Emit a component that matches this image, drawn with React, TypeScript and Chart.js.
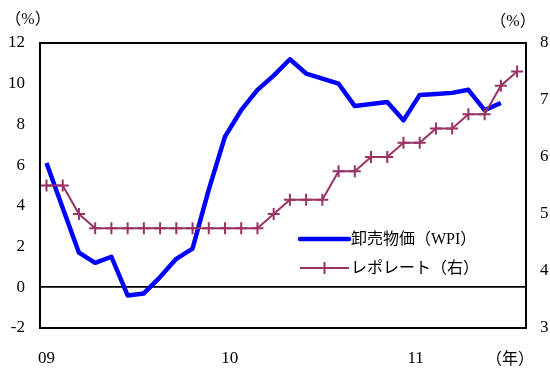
import { useEffect, useRef } from "react";
import { Chart, registerables } from "chart.js";

Chart.register(...registerables);

// Monthly observations, Jan 2009 – Jun 2011
const months = [
  "2009-01", "2009-02", "2009-03", "2009-04", "2009-05", "2009-06",
  "2009-07", "2009-08", "2009-09", "2009-10", "2009-11", "2009-12",
  "2010-01", "2010-02", "2010-03", "2010-04", "2010-05", "2010-06",
  "2010-07", "2010-08", "2010-09", "2010-10", "2010-11", "2010-12",
  "2011-01", "2011-02", "2011-03", "2011-04", "2011-05", "2011-06",
];

// Wholesale price index, y/y % (left axis)
const wpi = [
  6.1, 3.9, 1.7, 1.2, 1.5, -0.4, -0.3, 0.5, 1.4, 1.9,
  4.8, 7.4, 8.7, 9.7, 10.4, 11.2, 10.5, 10.25, 10.0, 8.9,
  9.0, 9.1, 8.2, 9.45, 9.5, 9.55, 9.7, 8.7, 9.05,
];

// Repo rate, % (right axis)
const repoRate = [
  5.5, 5.5, 5.0, 4.75, 4.75, 4.75, 4.75, 4.75, 4.75, 4.75,
  4.75, 4.75, 4.75, 4.75, 5.0, 5.25, 5.25, 5.25, 5.75, 5.75,
  6.0, 6.0, 6.25, 6.25, 6.5, 6.5, 6.75, 6.75, 7.25, 7.5,
];

const yearLabels = ["09", "10", "11"];
const yearTickPos = [0, 11.3, 22.75];

const seriesNames = ["卸売物価（WPI）", "レポレート（右）"];

const WPI_COLOR = "#0000ff";
const REPO_COLOR = "#993366";
const SERIF = "'Liberation Serif', 'Times New Roman', 'Noto Sans CJK JP', serif";
const FONT_SIZE = 17;
const LEGEND_SIZE = 16;

const decorations = {
  id: "decorations",
  afterDatasetsDraw(chart: any) {
    const { ctx, chartArea } = chart;
    const { left, right, top, bottom } = chartArea;
    ctx.save();

    // frame around the plot area
    ctx.strokeStyle = "#000";
    ctx.lineWidth = 2;
    ctx.strokeRect(left, top, right - left, bottom - top);

    // unit labels
    ctx.fillStyle = "#000";
    ctx.font = `${LEGEND_SIZE}px ${SERIF}`;
    ctx.textBaseline = "middle";
    ctx.textAlign = "center";
    ctx.fillText("（%）", 28, 20);
    ctx.fillText("（%）", 513, 22);
    ctx.fillText("（年）", 510, 360);

    // legend
    const lx0 = 300;
    const lx1 = 349;
    const rows = [239, 268];
    ctx.lineCap = "round";
    ctx.strokeStyle = WPI_COLOR;
    ctx.lineWidth = 4.5;
    ctx.beginPath();
    ctx.moveTo(lx0, rows[0]);
    ctx.lineTo(lx1, rows[0]);
    ctx.stroke();

    ctx.lineCap = "butt";
    ctx.strokeStyle = REPO_COLOR;
    ctx.lineWidth = 2;
    ctx.beginPath();
    ctx.moveTo(lx0, rows[1]);
    ctx.lineTo(lx1, rows[1]);
    const cx = (lx0 + lx1) / 2;
    ctx.moveTo(cx, rows[1] - 6);
    ctx.lineTo(cx, rows[1] + 6);
    ctx.stroke();

    ctx.fillStyle = "#000";
    ctx.font = `${LEGEND_SIZE}px ${SERIF}`;
    ctx.textAlign = "left";
    ctx.fillText(seriesNames[0], 351, rows[0] + 1);
    ctx.fillText(seriesNames[1], 351, rows[1] + 1);

    ctx.restore();
  },
};

export default function App() {
  const canvasRef = useRef<HTMLCanvasElement | null>(null);

  useEffect(() => {
    const canvas = canvasRef.current;
    if (!canvas) return;

    const chart = new Chart(canvas, {
      type: "line",
      data: {
        datasets: [
          {
            label: seriesNames[0],
            data: wpi.map((v, i) => ({ x: i, y: v })),
            borderColor: WPI_COLOR,
            borderWidth: 4.5,
            pointRadius: 0,
            tension: 0,
            yAxisID: "y",
            borderJoinStyle: "round",
            order: 2,
          },
          {
            label: seriesNames[1],
            data: repoRate.map((v, i) => ({ x: i, y: v })),
            borderColor: REPO_COLOR,
            borderWidth: 2,
            pointStyle: "cross",
            pointRadius: 6,
            pointBorderWidth: 2,
            pointBorderColor: REPO_COLOR,
            pointBackgroundColor: REPO_COLOR,
            tension: 0,
            yAxisID: "y1",
            order: 1,
          },
        ],
      },
      options: {
        animation: false,
        responsive: false,
        maintainAspectRatio: false,
        layout: { padding: { top: 43, left: 0, right: 0, bottom: 0 } },
        plugins: {
          legend: { display: false },
          tooltip: { enabled: false },
        },
        scales: {
          x: {
            type: "linear",
            min: -0.4,
            max: 29.55,
            grid: { display: false },
            border: { display: false },
            afterFit(scale: any) {
              scale.height = 41;
            },
            afterBuildTicks(scale: any) {
              scale.ticks = yearTickPos.map((value) => ({ value }));
            },
            ticks: {
              autoSkip: false,
              maxRotation: 0,
              padding: 12,
              color: "#000",
              font: { family: SERIF, size: FONT_SIZE },
              callback: (value: any) => {
                const idx = yearTickPos.indexOf(Number(value));
                return idx >= 0 ? yearLabels[idx] : "";
              },
            },
          },
          y: {
            position: "left",
            min: -2,
            max: 12,
            afterFit(scale: any) {
              scale.width = 40;
            },
            grid: {
              drawTicks: false,
              color: (c: any) => (c.tick && c.tick.value === 0 ? "#000" : "rgba(0,0,0,0)"),
              lineWidth: 1.8,
            },
            border: { display: false },
            ticks: {
              stepSize: 2,
              padding: 15,
              color: "#000",
              font: { family: SERIF, size: FONT_SIZE },
            },
          },
          y1: {
            position: "right",
            min: 3,
            max: 8,
            afterFit(scale: any) {
              scale.width = 24;
            },
            grid: { display: false, drawTicks: false },
            border: { display: false },
            ticks: {
              stepSize: 1,
              padding: 14,
              color: "#000",
              font: { family: SERIF, size: FONT_SIZE },
            },
          },
        },
      },
      plugins: [decorations],
    });

    return () => chart.destroy();
  }, []);

  return (
    <div style={{ position: "fixed", left: 0, top: 0, width: 550, height: 369, background: "#fff" }}>
      <canvas ref={canvasRef} width={550} height={369} style={{ display: "block" }} />
    </div>
  );
}
